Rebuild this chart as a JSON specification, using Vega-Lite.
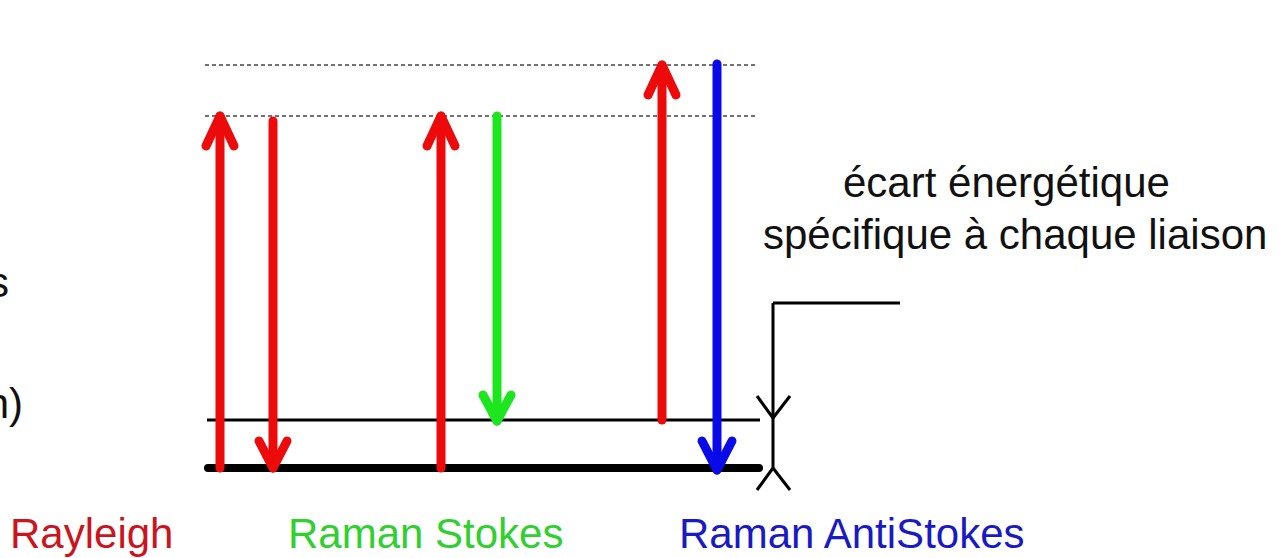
{
  "$schema": "https://vega.github.io/schema/vega-lite/v6.json",
  "width": 1283,
  "height": 558,
  "padding": 0,
  "autosize": {"type": "fit", "contains": "padding"},
  "background": "white",
  "config": {"view": {"stroke": null}},
  "datasets": {
    "segments": [
      {"type": "dash", "series": "niveau", "x": 205, "y": 65, "x2": 757, "y2": 65},
      {"type": "dash", "series": "niveau", "x": 205, "y": 116, "x2": 757, "y2": 116},
      {"type": "ground", "series": "niveau", "x": 208, "y": 468, "x2": 759, "y2": 468},
      {"type": "thin", "series": "niveau", "x": 207, "y": 420, "x2": 760, "y2": 420},
      {"type": "thin", "series": "niveau", "x": 773, "y": 303, "x2": 900, "y2": 303},
      {"type": "thin", "series": "niveau", "x": 773, "y": 303, "x2": 773, "y2": 468},
      {"type": "thin", "series": "niveau", "x": 773, "y": 418, "x2": 757, "y2": 396},
      {"type": "thin", "series": "niveau", "x": 773, "y": 418, "x2": 790, "y2": 396},
      {"type": "thin", "series": "niveau", "x": 773, "y": 468, "x2": 757, "y2": 490},
      {"type": "thin", "series": "niveau", "x": 773, "y": 468, "x2": 790, "y2": 490},
      {"type": "arrow", "series": "Rayleigh", "x": 220, "y": 468, "x2": 220, "y2": 118},
      {"type": "arrow", "series": "Rayleigh", "x": 220, "y": 116, "x2": 206, "y2": 146},
      {"type": "arrow", "series": "Rayleigh", "x": 220, "y": 116, "x2": 234, "y2": 146},
      {"type": "arrow", "series": "Rayleigh", "x": 273, "y": 121, "x2": 273, "y2": 466},
      {"type": "arrow", "series": "Rayleigh", "x": 273, "y": 468, "x2": 259, "y2": 441},
      {"type": "arrow", "series": "Rayleigh", "x": 273, "y": 468, "x2": 287, "y2": 441},
      {"type": "arrow", "series": "Rayleigh", "x": 441, "y": 468, "x2": 441, "y2": 118},
      {"type": "arrow", "series": "Rayleigh", "x": 441, "y": 116, "x2": 427, "y2": 146},
      {"type": "arrow", "series": "Rayleigh", "x": 441, "y": 116, "x2": 455, "y2": 146},
      {"type": "arrow", "series": "Stokes", "x": 497, "y": 116, "x2": 497, "y2": 419},
      {"type": "arrow", "series": "Stokes", "x": 497, "y": 421, "x2": 483, "y2": 395},
      {"type": "arrow", "series": "Stokes", "x": 497, "y": 421, "x2": 511, "y2": 395},
      {"type": "arrow", "series": "Rayleigh", "x": 662, "y": 420, "x2": 662, "y2": 67},
      {"type": "arrow", "series": "Rayleigh", "x": 662, "y": 65, "x2": 648, "y2": 95},
      {"type": "arrow", "series": "Rayleigh", "x": 662, "y": 65, "x2": 676, "y2": 95},
      {"type": "arrow", "series": "AntiStokes", "x": 717, "y": 64, "x2": 717, "y2": 468},
      {"type": "arrow", "series": "AntiStokes", "x": 717, "y": 470, "x2": 702, "y2": 441},
      {"type": "arrow", "series": "AntiStokes", "x": 717, "y": 470, "x2": 732, "y2": 441}
    ],
    "labels": [
      {"kind": "legend", "series": "Rayleigh label", "text": "Rayleigh", "x": 10, "y": 548},
      {"kind": "legend", "series": "Stokes label", "text": "Raman Stokes", "x": 288, "y": 548},
      {"kind": "legend", "series": "AntiStokes label", "text": "Raman AntiStokes", "x": 679, "y": 548},
      {"kind": "note", "series": "niveau", "text": "écart énergétique", "x": 843, "y": 197},
      {"kind": "note", "series": "niveau", "text": "spécifique à chaque liaison", "x": 763, "y": 249}
    ],
    "cut": [
      {"series": "niveau", "text": "s", "x": 9, "y": 297},
      {"series": "niveau", "text": "n)", "x": 23, "y": 418}
    ]
  },
  "layer": [
    {
      "data": {"name": "segments"},
      "transform": [{"filter": "datum.type === 'dash'"}],
      "mark": {"type": "rule", "strokeWidth": 1.5, "strokeDash": [4, 3], "color": "#444444"},
      "encoding": {
        "x": {"field": "x", "type": "quantitative", "scale": {"domain": [0, 1283], "nice": false, "zero": false}, "axis": null},
        "y": {"field": "y", "type": "quantitative", "scale": {"domain": [0, 558], "nice": false, "zero": false, "reverse": true}, "axis": null},
        "x2": {"field": "x2"},
        "y2": {"field": "y2"}
      }
    },
    {
      "data": {"name": "segments"},
      "transform": [{"filter": "datum.type === 'ground'"}],
      "mark": {"type": "rule", "strokeWidth": 8, "strokeCap": "round", "color": "black"},
      "encoding": {
        "x": {"field": "x", "type": "quantitative"},
        "y": {"field": "y", "type": "quantitative"},
        "x2": {"field": "x2"},
        "y2": {"field": "y2"}
      }
    },
    {
      "data": {"name": "segments"},
      "transform": [{"filter": "datum.type === 'thin'"}],
      "mark": {"type": "rule", "strokeWidth": 3, "strokeCap": "butt", "color": "black"},
      "encoding": {
        "x": {"field": "x", "type": "quantitative"},
        "y": {"field": "y", "type": "quantitative"},
        "x2": {"field": "x2"},
        "y2": {"field": "y2"}
      }
    },
    {
      "data": {"name": "segments"},
      "transform": [{"filter": "datum.type === 'arrow'"}],
      "mark": {"type": "rule", "strokeWidth": 9, "strokeCap": "round"},
      "encoding": {
        "x": {"field": "x", "type": "quantitative"},
        "y": {"field": "y", "type": "quantitative"},
        "x2": {"field": "x2"},
        "y2": {"field": "y2"},
        "color": {
          "field": "series", "type": "nominal", "legend": null,
          "scale": {
            "domain": ["Rayleigh", "Stokes", "AntiStokes", "niveau", "Rayleigh label", "Stokes label", "AntiStokes label"],
            "range": ["#ec0a0a", "#1ee61e", "#0a0ae8", "#111111", "#cc1420", "#30d030", "#1a1ac4"]
          }
        }
      }
    },
    {
      "data": {"name": "labels"},
      "mark": {"type": "text", "align": "left", "baseline": "alphabetic", "font": "Liberation Sans", "fontSize": 42},
      "encoding": {
        "x": {"field": "x", "type": "quantitative"},
        "y": {"field": "y", "type": "quantitative"},
        "text": {"field": "text"},
        "color": {"field": "series", "type": "nominal", "legend": null}
      }
    },
    {
      "data": {"name": "cut"},
      "mark": {"type": "text", "align": "right", "baseline": "alphabetic", "font": "Liberation Sans", "fontSize": 42, "clip": true},
      "encoding": {
        "x": {"field": "x", "type": "quantitative"},
        "y": {"field": "y", "type": "quantitative"},
        "text": {"field": "text"},
        "color": {"field": "series", "type": "nominal", "legend": null}
      }
    }
  ]
}
